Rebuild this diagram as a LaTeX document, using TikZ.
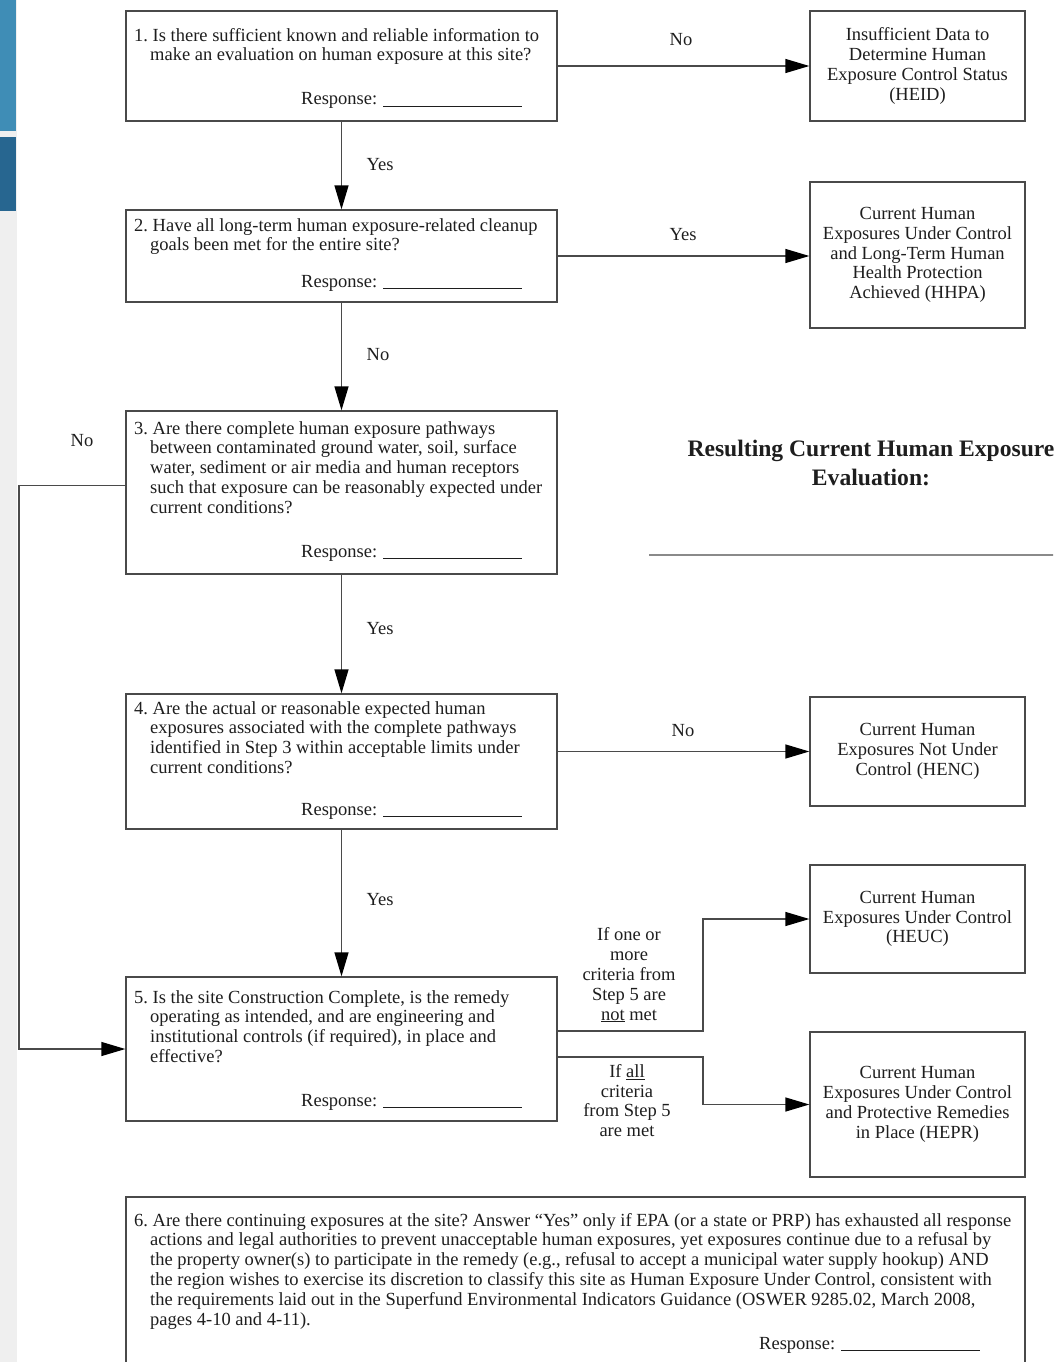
\documentclass[tikz,border=0pt]{standalone}
\usepackage{fontspec}
\setmainfont{Liberation Serif}
\usetikzlibrary{arrows.meta,calc}
\definecolor{ln}{HTML}{4A4A4A}
\definecolor{tx}{HTML}{1E1E1E}
\definecolor{blueA}{HTML}{3F8DB6}
\definecolor{blueB}{HTML}{276690}
\definecolor{stripG}{HTML}{EFEFEF}
\definecolor{sepG}{HTML}{8A8A8A}
\frenchspacing
\begin{document}
\begin{tikzpicture}[x=1pt,y=-1pt,
  box/.style={draw=ln, line width=1.3pt, inner sep=0pt},
  outbox/.style={box, text=tx, align=center, font=\fontsize{18.5}{19.8}\selectfont},
  qtext/.style={anchor=north west, inner sep=0pt, align=left, text=tx, font=\fontsize{18.5}{19.8}\selectfont},
  resp/.style={anchor=base west, inner sep=0pt, text=tx, font=\fontsize{18.5}{19.8}\selectfont},
  lbl/.style={inner sep=0pt, text=tx, font=\fontsize{18.5}{19.8}\selectfont},
  arr/.style={draw=ln, line width=1.3pt, -{Triangle[length=24pt,width=14pt,color=black]}},
  conn/.style={draw=ln, line width=1.3pt}
]
\useasboundingbox (0,0) rectangle (1053,1362);
\clip (0,0) rectangle (1053,1362);
\fill[white] (0,0) rectangle (1053,1362);
% left strip (screenshot edge)
\fill[stripG] (0,0) rectangle (17,1362);
\fill[blueA] (0,0) rectangle (16,131);
\fill[blueB] (0,137) rectangle (16,211);

% question boxes
\node[box, minimum width=431pt, minimum height=110pt] (b1) at (341.5,66) {};
\node[box, minimum width=431pt, minimum height=92pt] (b2) at (341.5,256) {};
\node[box, minimum width=431pt, minimum height=163pt] (b3) at (341.5,492.5) {};
\node[box, minimum width=431pt, minimum height=135pt] (b4) at (341.5,761.5) {};
\node[box, minimum width=431pt, minimum height=144pt] (b5) at (341.5,1049) {};
\node[box, minimum width=899pt, minimum height=210pt] (b6) at (575.5,1302) {};

% outcome boxes
\node[outbox, minimum width=215pt, minimum height=110pt] (heid) at (917.5,66)
  {Insufficient Data to\\Determine Human\\Exposure Control Status\\(HEID)};
\node[outbox, minimum width=215pt, minimum height=146pt] (hhpa) at (917.5,255)
  {Current Human\\Exposures Under Control\\and Long-Term Human\\Health Protection\\Achieved (HHPA)};
\node[outbox, minimum width=215pt, minimum height=109pt] (henc) at (917.5,751.5)
  {Current Human\\Exposures Not Under\\Control (HENC)};
\node[outbox, minimum width=215pt, minimum height=108pt] (heuc) at (917.5,919)
  {Current Human\\Exposures Under Control\\(HEUC)};
\node[outbox, minimum width=215pt, minimum height=145pt] (hepr) at (917.5,1104.5)
  {Current Human\\Exposures Under Control\\and Protective Remedies\\in Place (HEPR)};

% question texts
\node[qtext] (q1) at (134,27) {\strut 1. Is there sufficient known and reliable information to\\\hspace*{16pt}make an evaluation on human exposure at this site?};
\node[resp] (r1) at (301,105) {Response:\hspace{6pt}\rule[-1.5pt]{139pt}{0.8pt}};

\node[qtext] (q2) at (134,217) {\strut 2. Have all long-term human exposure-related cleanup\\\hspace*{16pt}goals been met for the entire site?};
\node[resp] (r2) at (301,287) {Response:\hspace{6pt}\rule[-1.5pt]{139pt}{0.8pt}};

\node[qtext] (q3) at (134,420) {\strut 3. Are there complete human exposure pathways\\\hspace*{16pt}between contaminated ground water, soil, surface\\\hspace*{16pt}water, sediment or air media and human receptors\\\hspace*{16pt}such that exposure can be reasonably expected under\\\hspace*{16pt}current conditions?};
\node[resp] (r3) at (301,557) {Response:\hspace{6pt}\rule[-1.5pt]{139pt}{0.8pt}};

\node[qtext] (q4) at (134,700) {\strut 4. Are the actual or reasonable expected human\\\hspace*{16pt}exposures associated with the complete pathways\\\hspace*{16pt}identified in Step 3 within acceptable limits under\\\hspace*{16pt}current conditions?};
\node[resp] (r4) at (301,815) {Response:\hspace{6pt}\rule[-1.5pt]{139pt}{0.8pt}};

\node[qtext] (q5) at (134,989) {\strut 5. Is the site Construction Complete, is the remedy\\\hspace*{16pt}operating as intended, and are engineering and\\\hspace*{16pt}institutional controls (if required), in place and\\\hspace*{16pt}effective?};
\node[resp] (r5) at (301,1106) {Response:\hspace{6pt}\rule[-1.5pt]{139pt}{0.8pt}};

\node[qtext] (q6) at (134,1212) {\strut 6. Are there continuing exposures at the site? Answer “Yes” only if EPA (or a state or PRP) has exhausted all response\\\hspace*{16pt}actions and legal authorities to prevent unacceptable human exposures, yet exposures continue due to a refusal by\\\hspace*{16pt}the property owner(s) to participate in the remedy (e.g., refusal to accept a municipal water supply hookup) AND\\\hspace*{16pt}the region wishes to exercise its discretion to classify this site as Human Exposure Under Control, consistent with\\\hspace*{16pt}the requirements laid out in the Superfund Environmental Indicators Guidance (OSWER 9285.02, March 2008,\\\hspace*{16pt}pages 4-10 and 4-11).};
\node[resp] (r6) at (759,1349) {Response:\hspace{6pt}\rule[-1.5pt]{139pt}{0.8pt}};

% title
\node[inner sep=0pt, align=center, text=tx, font=\fontsize{23.6}{29}\selectfont\bfseries] (title) at (871,463)
  {Resulting Current Human Exposure\\Evaluation:};
\coordinate (sepL) at (649,555);
\coordinate (sepR) at (1060,555);
\draw[sepG, line width=2pt] (sepL) -- (sepR);

% connectors
\draw[arr] (b1) -- (b2);
\draw[arr] (b2) -- (b3);
\draw[arr] (b3) -- (b4);
\draw[arr] (b4) -- (b5);
\draw[arr] (b1) -- (heid);
\draw[arr] (b2.east) -- (b2.east -| hhpa.west);
\draw[arr] (b4.east |- henc.west) -- (henc.west);

\coordinate (lx) at (19,0);
\draw[arr] ([yshift=7pt]b3.west) -- ([yshift=7pt]b3.west -| lx) |- (b5.west);

\coordinate (mx) at (703,0);
\draw[arr] ([yshift=18pt]b5.east) -- ([yshift=18pt]b5.east -| mx) |- (heuc.west);
\draw[arr] ([yshift=-8pt]b5.east) -- ([yshift=-8pt]b5.east -| mx) |- (hepr.west);

% labels
\node[lbl] (l12) at (380,165) {Yes};
\node[lbl] (l23) at (378,355) {No};
\node[lbl] (l34) at (380,629) {Yes};
\node[lbl] (l45) at (380,900) {Yes};
\node[lbl] (l1h) at (681,40) {No};
\node[lbl] (l2h) at (683,235) {Yes};
\node[lbl] (l4h) at (683,731) {No};
\node[lbl] (l35) at (82,441) {No};
\node[lbl, align=center] (lnot) at (629,975) {If one or\\more\\criteria from\\Step 5 are\\\underline{not} met};
\node[lbl, align=center] (lall) at (627,1100.5) {If \underline{all}\\criteria\\from Step 5\\are met};
\end{tikzpicture}
\end{document}
